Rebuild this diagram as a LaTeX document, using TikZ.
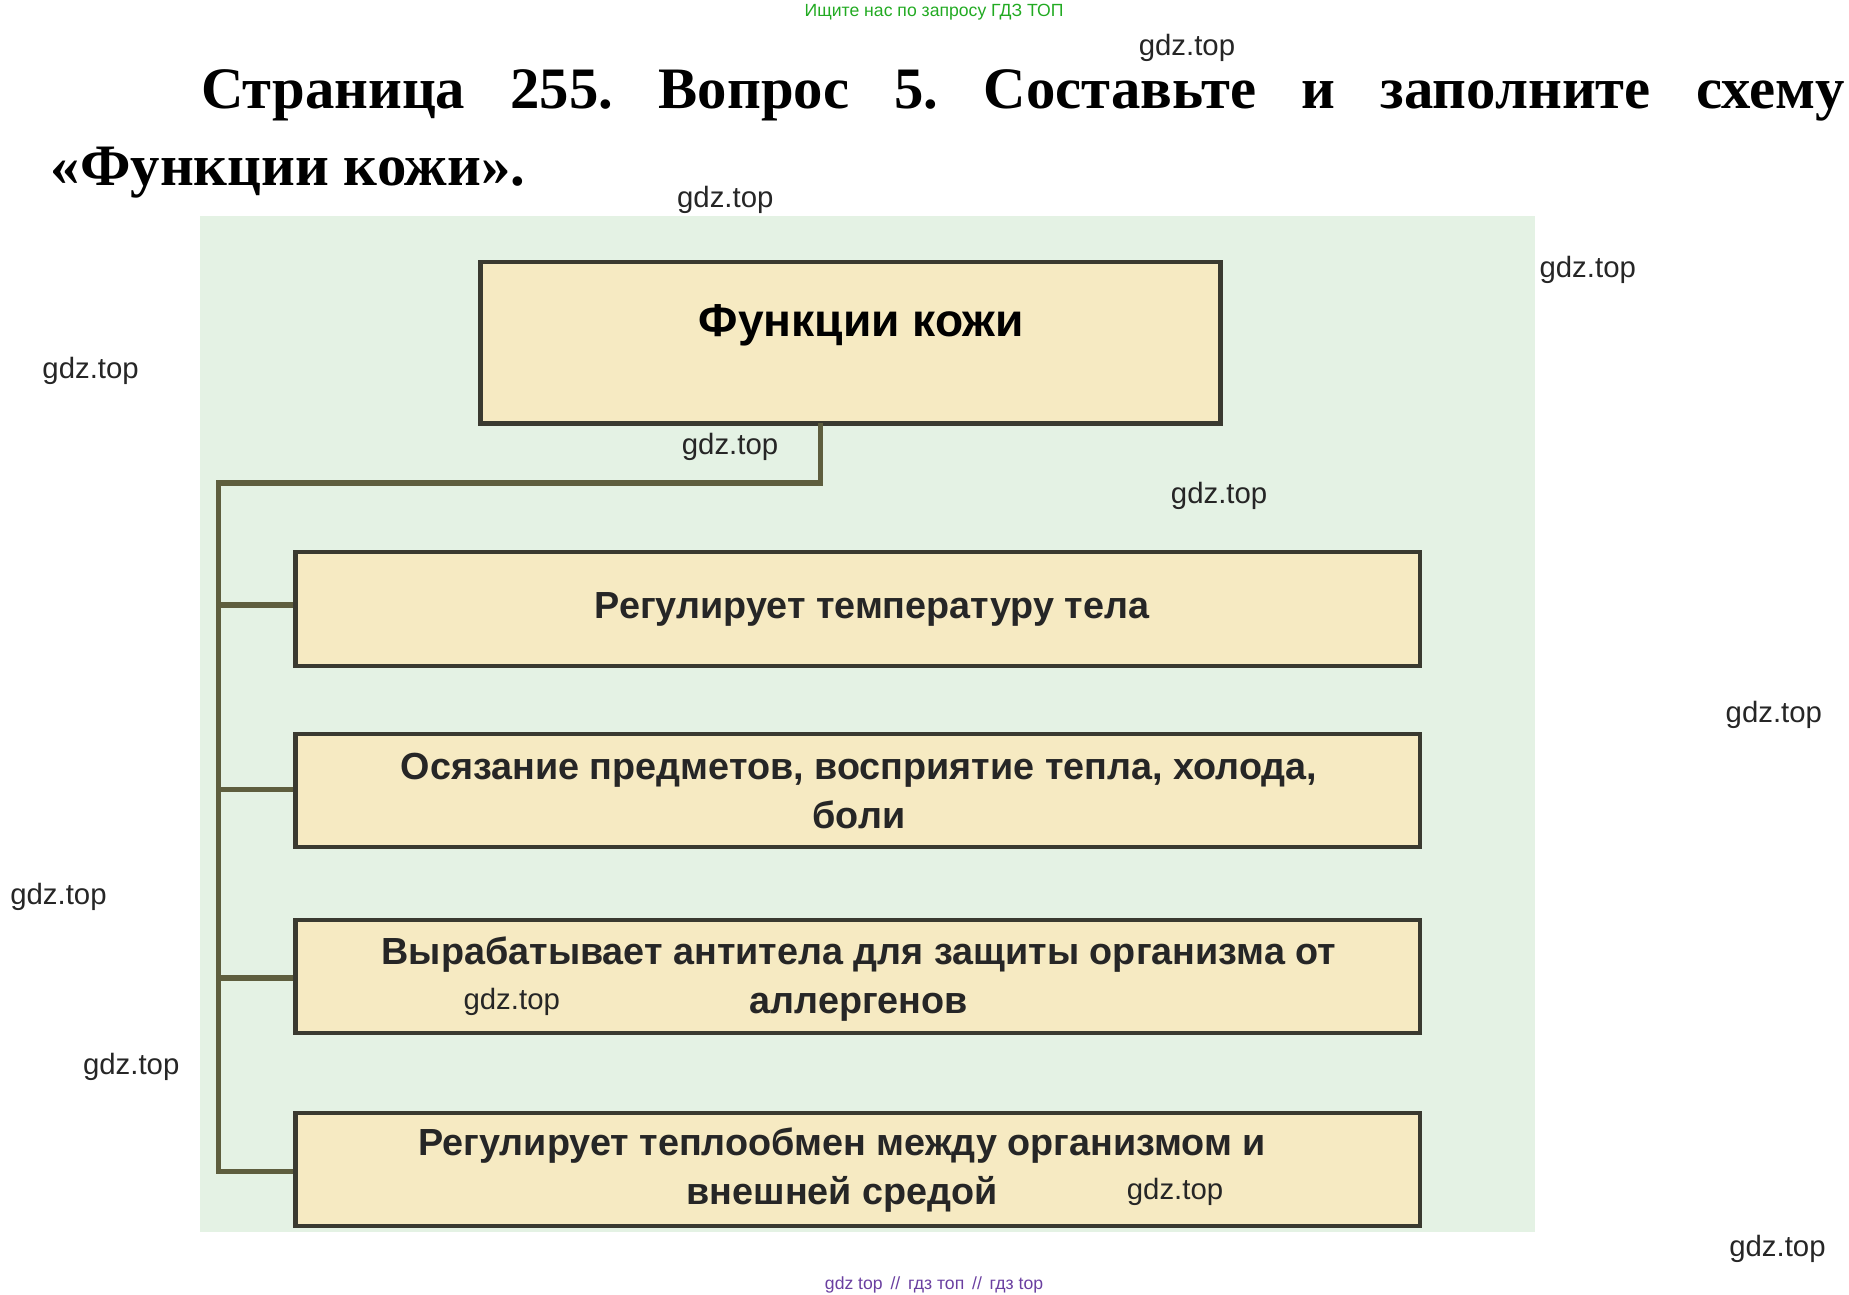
\documentclass[tikz,border=0pt]{standalone}
\usepackage{fontspec}
\setmainfont{Liberation Serif}
\setsansfont{Liberation Sans}
\frenchspacing
\definecolor{bg}{HTML}{E4F2E4}
\definecolor{boxf}{HTML}{F6EAC2}
\definecolor{boxd}{HTML}{3A3A30}
\definecolor{line}{HTML}{5E5E3E}
\definecolor{wm}{HTML}{22AA22}
\definecolor{pur}{HTML}{6A3FA0}
\tikzset{
 fbox/.style={draw=boxd,line width=1pt,fill=boxf,inner sep=0pt},
 ftext/.style={font=\sffamily\bfseries\fontsize{9}{11.6}\selectfont,align=center,text=black!85},
 wmark/.style={font=\sffamily\fontsize{7}{8}\selectfont,text=black!85},
 conn/.style={draw=line,line width=1.3pt}
}
\begin{document}
\begin{tikzpicture}[x=0.01cm,y=-0.01cm]
\useasboundingbox (0,0) rectangle (1550,1085);
\node[font=\sffamily\fontsize{4.2}{5}\selectfont,text=wm] (top) at (783,10) {Ищите нас по запросу ГДЗ ТОП};
\node[anchor=west,inner sep=0pt,font=\bfseries\fontsize{14}{16}\selectfont] (t1) at (168,80) {\makebox[13.77cm][s]{Страница 255. Вопрос 5. Составьте и заполните схему}};
\node[anchor=west,inner sep=0pt,font=\bfseries\fontsize{14}{16}\selectfont] (t2) at (42,145) {«Функции кожи».};
\fill[bg] (168,181) rectangle (1287,1033);
\node[fbox,minimum width=6.2cm,minimum height=1.35cm] (h) at (713,287.5) {};
\node[font=\sffamily\bfseries\fontsize{11}{13}\selectfont] (ht) at (722,273) {Функции кожи};
\node[fbox,minimum width=9.42cm,minimum height=0.95cm] (b1) at (719,510.5) {};
\node[fbox,minimum width=9.42cm,minimum height=0.95cm] (b2) at (719,662.5) {};
\node[fbox,minimum width=9.42cm,minimum height=0.95cm] (b3) at (719,818.5) {};
\node[fbox,minimum width=9.42cm,minimum height=0.95cm] (b4) at (719,980.5) {};
\node[ftext] (x1) at (731,511) {Регулирует температуру тела};
\node[ftext] (x2) at (720,663) {Осязание предметов, восприятие тепла, холода,\\боли};
\node[ftext] (x3) at (720,821) {Вырабатывает антитела для защиты организма от\\аллергенов};
\node[ftext] (x4) at (706,981) {Регулирует теплообмен между организмом и\\внешней средой};
\coordinate (hb) at (688,355);
\coordinate (c1) at (688,405);
\coordinate (c2) at (183,405);
\coordinate (c3) at (183,982);
\draw[conn] (hb) -- (c1) -- (c2) -- (c3) -- (b4.west |- c3);
\draw[conn] (183,507) -- (b1.west |- 0,507);
\draw[conn] (183,662) -- (b2.west |- 0,662);
\draw[conn] (183,820) -- (b3.west |- 0,820);
\foreach \p [count=\i] in {(995,40),(608,168),(1331,226),(76,311),(612,375),(1022,416),(1487,599),(49,752),(429,840),(110,894),(985,999),(1490,1047)}
  \node[wmark] (w\i) at \p {gdz.top};
\node[font=\sffamily\fontsize{4.2}{5}\selectfont,text=pur] (bot) at (783,1077) {gdz top \,//\, гдз топ \,//\, гдз top};
\end{tikzpicture}
\end{document}
